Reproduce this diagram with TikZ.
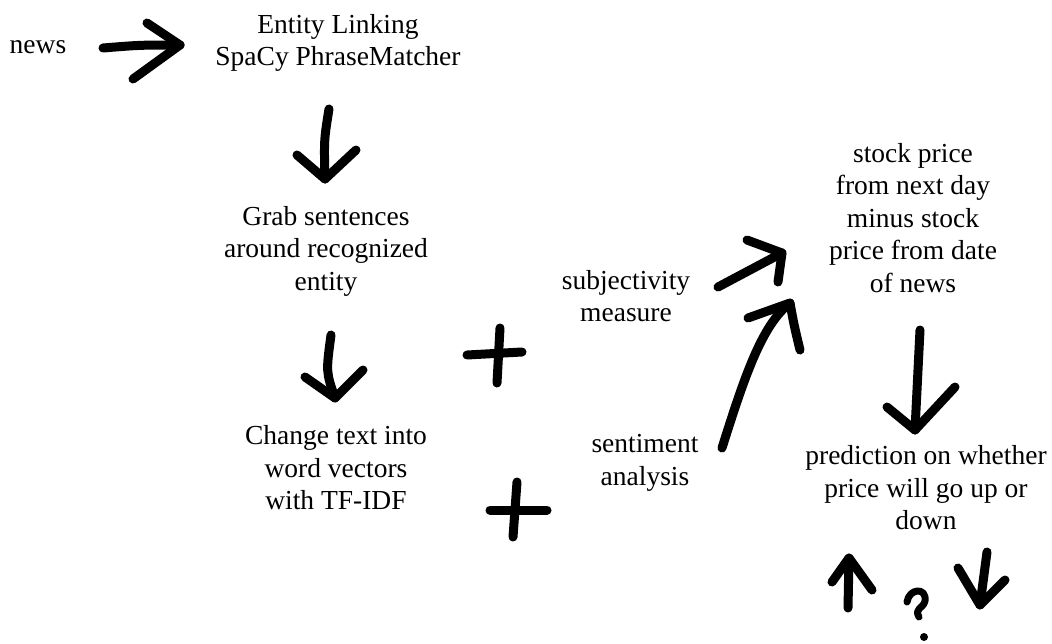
\documentclass[tikz,border=0pt]{standalone}
\usepackage{fontspec}
\setmainfont{LiberationSerif}[Extension=.ttf, UprightFont=*-Regular, BoldFont=*-Bold, ItalicFont=*-Italic, BoldItalicFont=*-BoldItalic]
\begin{document}
\begin{tikzpicture}[x=1pt,y=-1pt,
  txt/.style={align=center, font=\rmfamily\fontsize{27.5}{32.5}\selectfont, inner sep=0pt},
  stroke/.style={line width=9pt, line cap=round, line join=round}]
\useasboundingbox (0,0) rectangle (1052,643);
% texts
\node[txt] (news) at (38,47) {news};
\node[txt] (el) at (338,43) {Entity Linking\\SpaCy PhraseMatcher};
\node[txt] (grab) at (326,251) {Grab sentences\\around recognized\\entity};
\node[txt] (change) at (336,468) {Change text into\\word vectors\\with TF-IDF};
\node[txt] (subj) at (626,296) {subjectivity\\measure};
\node[txt] (sent) at (645,463) {sentiment\\analysis};
\node[txt] (stock) at (913,218) {stock price\\from next day\\minus stock\\price from date\\of news};
\node[txt] (pred) at (926,488) {prediction on whether\\price will go up or\\down};
% arrow news -> entity linking
\coordinate (a1s) at (103,48); \coordinate (a1t) at (180,45);
\draw[stroke] (a1s) .. controls (140,45) .. (a1t);
\draw[stroke] (147,23) -- (a1t) -- (133,79);
% arrow entity linking -> grab
\coordinate (a2s) at (329,109); \coordinate (a2t) at (325,179);
\draw[stroke] (a2s) .. controls (324,140) .. (a2t);
\draw[stroke] (297,155) -- (a2t) -- (356,150);
% arrow grab -> change
\coordinate (a3s) at (331,335); \coordinate (a3t) at (335,398);
\draw[stroke] (a3s) .. controls (326,372) .. (a3t);
\draw[stroke] (305,377) -- (a3t) -- (363,370);
% plus signs
\draw[stroke] (500,328) -- (497,383);
\draw[stroke] (467,355) -- (522,352);
\draw[stroke] (517,482) -- (513,537);
\draw[stroke] (490,510) -- (547,510);
% arrow subjectivity -> stock
\coordinate (a4s) at (718,287); \coordinate (a4t) at (782,253);
\draw[stroke] (a4s) -- (a4t);
\draw[stroke] (747,240) -- (a4t) -- (778,282);
% arrow sentiment -> stock
\coordinate (a5s) at (722,448); \coordinate (a5t) at (790,303);
\draw[stroke] (a5s) .. controls (745,375) and (762,325) .. (a5t);
\draw[stroke] (748,318) -- (a5t) .. controls (794,325) .. (800,350);
% arrow stock -> prediction
\coordinate (a6s) at (920,330); \coordinate (a6t) at (915,430);
\draw[stroke] (a6s) -- (a6t);
\draw[stroke] (887,407) -- (a6t) -- (955,387);
% up arrow
\coordinate (ups) at (848,608); \coordinate (upt) at (849,558);
\draw[stroke] (ups) -- (upt);
\draw[stroke] (832,582) -- (upt) -- (872,590);
% question mark
\draw[line width=7pt, line cap=round, line join=round] (907,602) .. controls (909,588) and (927,587) .. (925,601) .. controls (923,609) and (914,608) .. (919,617);
\fill (924,637) circle (4);
% down arrow
\coordinate (dns) at (987,552); \coordinate (dnt) at (980,605);
\draw[stroke] (dns) -- (dnt);
\draw[stroke] (958,568) -- (dnt) -- (1005,580);
\end{tikzpicture}
\end{document}
